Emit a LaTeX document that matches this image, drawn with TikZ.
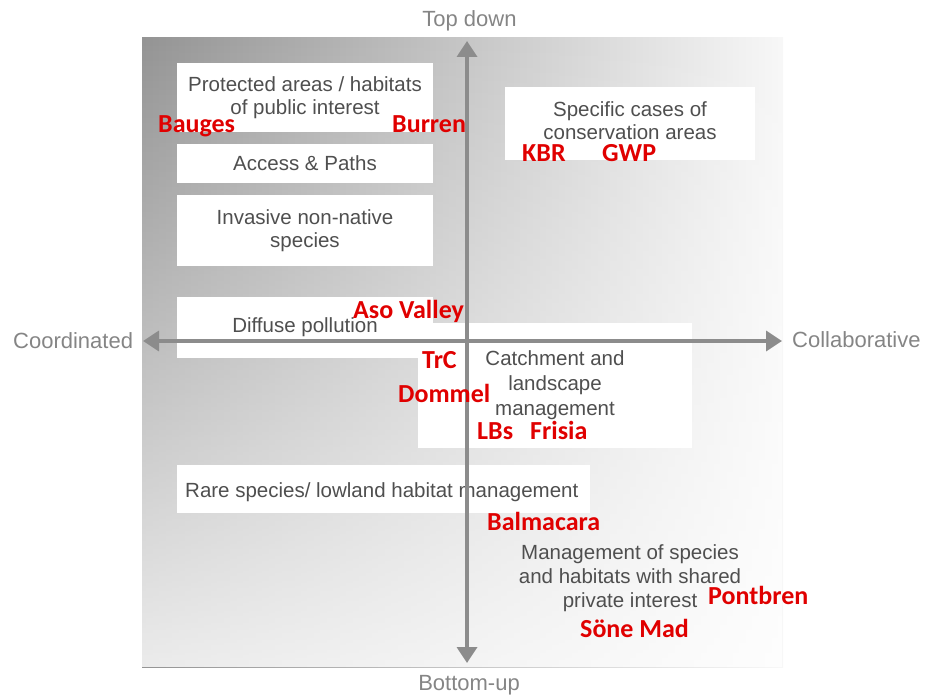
\documentclass[tikz,border=0pt]{standalone}
\usepackage{fontspec}
\setmainfont{Liberation Sans}
\newfontfamily\casefont{Carlito}
\usetikzlibrary{arrows.meta,fadings}

\definecolor{axisgray}{HTML}{8C8C8C}
\definecolor{labelgray}{HTML}{858585}
\definecolor{boxtext}{HTML}{4F4F4F}
\definecolor{casered}{HTML}{E00000}

\begin{document}
\begin{tikzpicture}[x=1pt,y=-1pt,
  areabox/.style={fill=white, draw=none, inner sep=0pt, align=center,
    text=boxtext, font=\fontsize{20.5pt}{23pt}\selectfont},
  boxlabel/.style={text=boxtext, inner sep=0pt,
    font=\fontsize{20.5pt}{23pt}\selectfont},
  caselabel/.style={text=casered, inner sep=0pt, anchor=base west,
    font=\casefont\bfseries\fontsize{26pt}{30pt}\selectfont},
  axislabel/.style={text=labelgray, inner sep=0pt,
    font=\fontsize{22pt}{26pt}\selectfont},
  axisline/.style={draw=axisgray, line width=3.5pt,
    {Triangle[width=20pt,length=16pt]}-{Triangle[width=20pt,length=16pt]}}
]
\useasboundingbox (0,0) rectangle (925,695);

% shaded backdrop of the quadrant chart
\shade[left color=black!42, middle color=black!19, right color=black!3]
  (142,38) rectangle (783,667);
\fill[white, path fading=north, fill opacity=0.82] (142,38) rectangle (783,667);

% governance areas
\node[areabox, minimum width=256pt, minimum height=69pt] (protected) at (305,97.5)
  {Protected areas / habitats\\of public interest};
\node[areabox, minimum width=256pt, minimum height=39pt] (access) at (305,163.5)
  {Access \& Paths};
\node[areabox, minimum width=256pt, minimum height=71pt] (invasive) at (305,230.5)
  {Invasive non-native\\species};
\node[areabox, minimum width=250pt, minimum height=73pt] (specific) at (630,123.5) {};
\node[boxlabel, align=center, font=\fontsize{20.5pt}{22.5pt}\selectfont]
  (specifictxt) at (630,120.5) {Specific cases of\\conservation areas};
\node[areabox, minimum width=256pt, minimum height=61pt] (diffuse) at (305,327.5)
  {Diffuse pollution};
\node[areabox, minimum width=274pt, minimum height=125pt,
  font=\fontsize{20.5pt}{25pt}\selectfont] (catchment) at (555,385.5)
  {Catchment and\\landscape\\management};
\node[areabox, minimum width=413pt, minimum height=48pt] (rare) at (383.5,489) {};
\node[boxlabel, anchor=base west] (raretxt) at (185,497)
  {Rare species/ lowland habitat management};
\node[boxlabel, align=center, font=\fontsize{20.5pt}{24pt}\selectfont]
  (shared) at (630,578)
  {Management of species\\and habitats with shared\\private interest};

% axes
\coordinate (top) at (467,41);
\coordinate (bottom) at (467,663);
\coordinate (left) at (143,341);
\coordinate (right) at (782,341);
\draw[axisline] (left) -- (right);
\draw[axisline] (bottom) -- (top);

\node[axislabel, anchor=base] (topdown) at (469.5,27) {Top down};
\node[axislabel, anchor=base] (bottomup) at (469,690) {Bottom-up};
\node[axislabel, anchor=base west] (coordinated) at (13,348) {Coordinated};
\node[axislabel, anchor=base west] (collaborative) at (792,347) {Collaborative};

% case studies
\node[caselabel] (bauges) at (158,133) {Bauges};
\node[caselabel] (burren) at (392,133) {Burren};
\node[caselabel] (kbr) at (522,162) {KBR};
\node[caselabel] (gwp) at (602,162) {GWP};
\node[caselabel] (aso) at (353,318) {Aso Valley};
\node[caselabel] (trc) at (422,368) {TrC};
\node[caselabel] (dommel) at (398,402) {Dommel};
\node[caselabel] (lbs) at (477,439) {LBs};
\node[caselabel] (frisia) at (530,439) {Frisia};
\node[caselabel] (balmacara) at (487,530) {Balmacara};
\node[caselabel] (pontbren) at (708,604) {Pontbren};
\node[caselabel] (sone) at (580,637) {Söne Mad};
\end{tikzpicture}
\end{document}
